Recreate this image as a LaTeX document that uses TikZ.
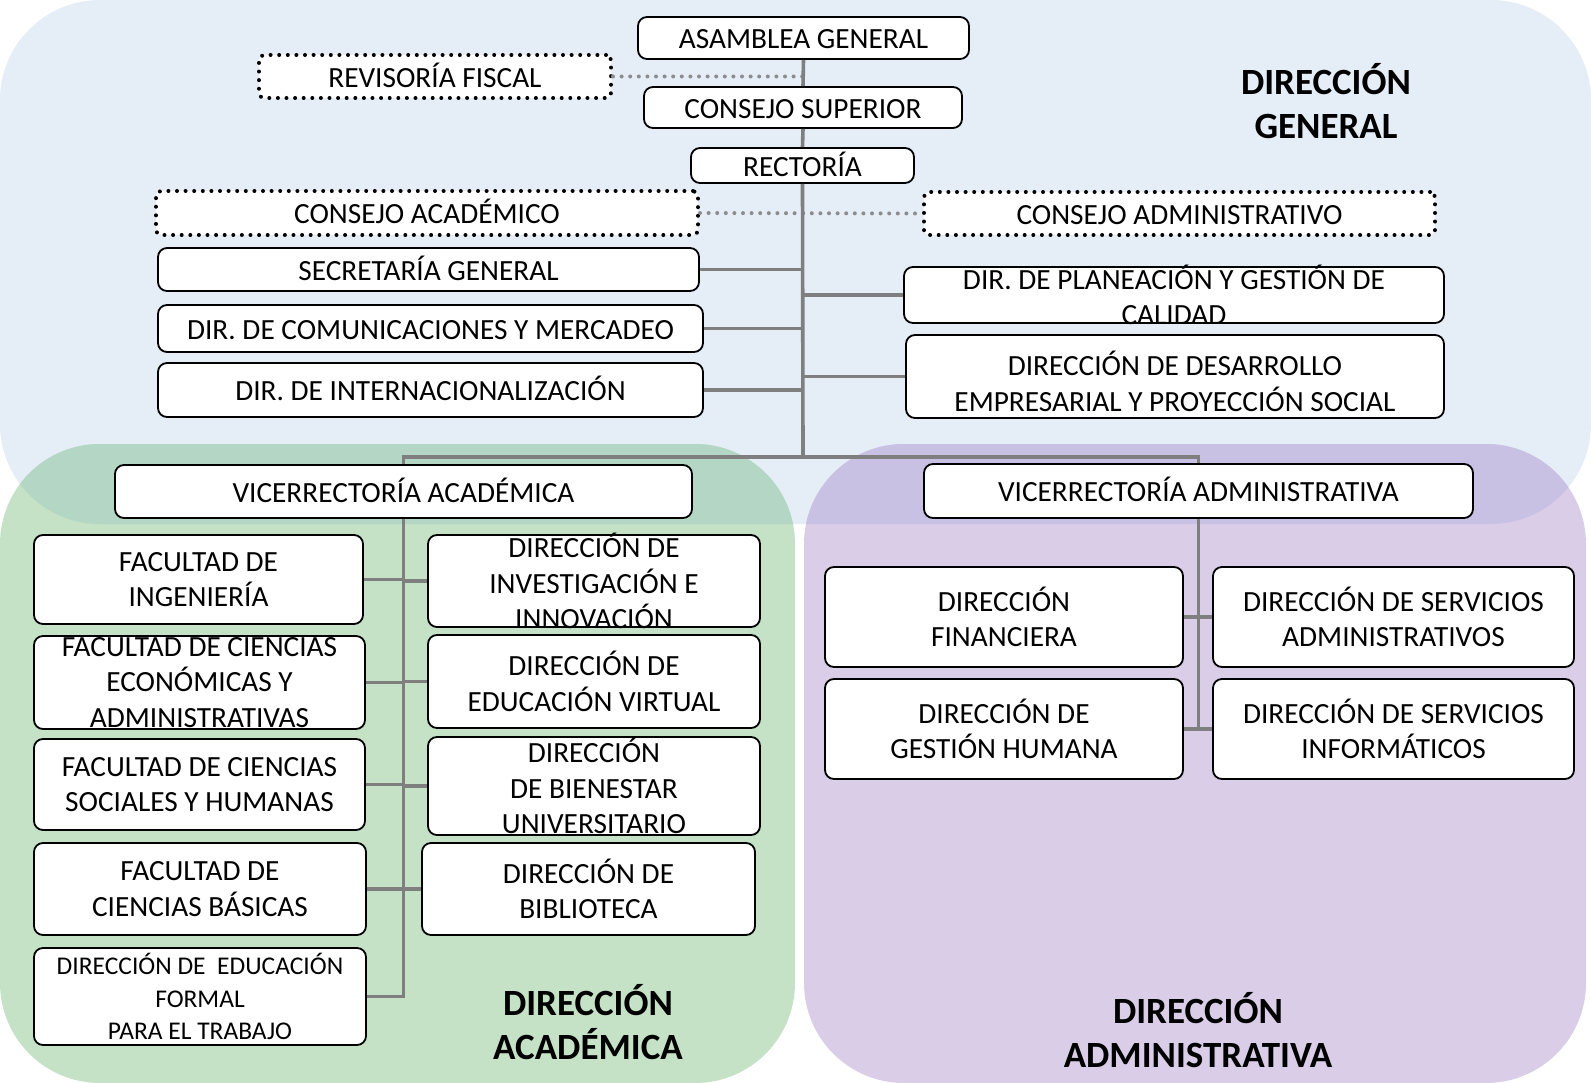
\documentclass[tikz,border=0pt]{standalone}
\usepackage{fontspec}
\setmainfont{Carlito}
\definecolor{fondogen}{RGB}{229,237,247}
\definecolor{fondoacad}{RGB}{197,225,198}
\definecolor{cruceacad}{RGB}{179,214,197}
\definecolor{fondoadmin}{RGB}{218,205,232}
\definecolor{cruceadmin}{RGB}{201,193,227}
\definecolor{gris}{RGB}{127,127,127}
\definecolor{grisclaro}{RGB}{140,140,140}

\begin{document}
\begin{tikzpicture}[x=1pt,y=-1pt,
	caja/.style 2 args={draw=black, line width=1.8pt, fill=white, rounded corners=9pt, minimum width=#1pt, minimum height=#2pt, inner sep=0pt},
	puntos/.style 2 args={draw=black, line width=4pt, dash pattern=on 0pt off 8.6pt, line cap=round, fill=white, rounded corners=5pt, minimum width=#1pt, minimum height=#2pt, inner sep=0pt},
	texto/.style={font=\fontsize{29.3}{35.4}\selectfont, align=center, inner sep=0pt},
	unalinea/.style={texto, text height=18.5pt, text depth=0pt, yshift=-1.5pt},
	textochico/.style={font=\fontsize{25.5}{32.5}\selectfont, align=center, inner sep=0pt},
	titulo/.style={font=\fontsize{37}{44.5}\selectfont\bfseries, align=center, inner sep=0pt},
	linea/.style={draw=gris, line width=3.6pt},
	enlace/.style={draw=grisclaro, line width=4pt, dash pattern=on 0pt off 8.6pt, line cap=round}]
	\useasboundingbox (0,0) rectangle (1591,1083);
	\fill [fondogen, rounded corners=100pt] (0,0) rectangle (1591,524);
	\fill [fondoacad, rounded corners=100pt] (0,444) rectangle (795,1083);
	\fill [fondoadmin, rounded corners=100pt] (804,444) rectangle (1586,1083);
	\begin{scope}
		\clip [rounded corners=100pt] (0,0) rectangle (1591,524);
		\fill [cruceacad, rounded corners=100pt] (0,444) rectangle (795,1083);
		\fill [cruceadmin, rounded corners=100pt] (804,444) rectangle (1586,1083);
	\end{scope}

	\node [caja={331}{42}] (asamblea) at (803.5,38) {};
	\node [unalinea] (asambleat) at (asamblea) {ASAMBLEA GENERAL};
	\node [puntos={352}{43}] (revisoria) at (435,76.5) {};
	\node [unalinea] (revisoriat) at (revisoria) {REVISORÍA FISCAL};
	\node [caja={318}{41}] (superior) at (803,107.5) {};
	\node [unalinea] (superiort) at (superior) {CONSEJO SUPERIOR};
	\node [caja={223}{35}] (rectoria) at (802.5,165.5) {};
	\node [unalinea] (rectoriat) at (rectoria) {RECTORÍA};
	\node [puntos={542}{44}] (cacad) at (427,213) {};
	\node [unalinea] (cacadt) at (cacad) {CONSEJO ACADÉMICO};
	\node [puntos={511}{43}] (cadmin) at (1179.5,213.5) {};
	\node [unalinea] (cadmint) at (cadmin) {CONSEJO ADMINISTRATIVO};
	\node [caja={541}{43}] (secretaria) at (428.5,269.5) {};
	\node [unalinea] (secretariat) at (secretaria) {SECRETARÍA GENERAL};
	\node [caja={545}{47}] (comunic) at (430.5,328.5) {};
	\node [unalinea] (comunict) at (comunic) {DIR. DE COMUNICACIONES Y MERCADEO};
	\node [caja={545}{54}] (internac) at (430.5,390) {};
	\node [unalinea] (internact) at (internac) {DIR. DE INTERNACIONALIZACIÓN};
	\node [caja={540}{56}] (planeacion) at (1174,295) {};
	\node [texto] (planeaciont) at (planeacion) {DIR. DE PLANEACIÓN Y GESTIÓN DE\\CALIDAD};
	\node [caja={538}{83}] (desarrollo) at (1175,376.5) {};
	\node [texto, yshift=-5pt] (desarrollot) at (desarrollo) {DIRECCIÓN DE DESARROLLO\\EMPRESARIAL Y PROYECCIÓN SOCIAL};

	\node [caja={577}{53}] (vacad) at (403.5,491.5) {};
	\node [unalinea] (vacadt) at (vacad) {VICERRECTORÍA ACADÉMICA};
	\node [caja={329}{89}] (ing) at (198.5,579.5) {};
	\node [texto] (ingt) at (ing) {FACULTAD DE\\INGENIERÍA};
	\node [caja={331}{93}] (econ) at (199.5,682.5) {};
	\node [texto] (econt) at (econ) {FACULTAD DE CIENCIAS\\ECONÓMICAS Y\\ADMINISTRATIVAS};
	\node [caja={331}{91}] (soc) at (199.5,784.5) {};
	\node [texto] (soct) at (soc) {FACULTAD DE CIENCIAS\\SOCIALES Y HUMANAS};
	\node [caja={332}{92}] (basicas) at (200,889) {};
	\node [texto] (basicast) at (basicas) {FACULTAD DE\\CIENCIAS BÁSICAS};
	\node [caja={332}{97}] (formal) at (200,996.5) {};
	\node [textochico] (formalt) at (formal) {DIRECCIÓN DE\ \ EDUCACIÓN\\FORMAL\\PARA EL TRABAJO};
	\node [caja={332}{92}] (invest) at (594,581) {};
	\node [texto] (investt) at (invest) {DIRECCIÓN DE\\INVESTIGACIÓN E\\INNOVACIÓN};
	\node [caja={332}{93}] (virtual) at (594,681.5) {};
	\node [texto] (virtualt) at (virtual) {DIRECCIÓN DE\\EDUCACIÓN VIRTUAL};
	\node [caja={332}{98}] (bienestar) at (594,786) {};
	\node [texto] (bienestart) at (bienestar) {DIRECCIÓN\\DE BIENESTAR\\UNIVERSITARIO};
	\node [caja={333}{92}] (biblio) at (588.5,889) {};
	\node [texto] (bibliot) at (biblio) {DIRECCIÓN DE\\BIBLIOTECA};

	\node [caja={549}{54}] (vadmin) at (1198.5,491) {};
	\node [unalinea] (vadmint) at (vadmin) {VICERRECTORÍA ADMINISTRATIVA};
	\node [caja={358}{100}] (financiera) at (1004,617) {};
	\node [texto] (financierat) at (financiera) {DIRECCIÓN\\FINANCIERA};
	\node [caja={358}{100}] (humana) at (1004,729) {};
	\node [texto] (humanat) at (humana) {DIRECCIÓN DE\\GESTIÓN HUMANA};
	\node [caja={361}{100}] (servadm) at (1393.5,617) {};
	\node [texto] (servadmt) at (servadm) {DIRECCIÓN DE SERVICIOS\\ADMINISTRATIVOS};
	\node [caja={361}{100}] (servinf) at (1393.5,729) {};
	\node [texto] (servinft) at (servinf) {DIRECCIÓN DE SERVICIOS\\INFORMÁTICOS};

	\node [titulo] (tgeneral) at (1326,101) {DIRECCIÓN\\GENERAL};
	\node [titulo] (tacad) at (588,1022) {DIRECCIÓN\\ACADÉMICA};
	\node [titulo] (tadmin) at (1198,1030) {DIRECCIÓN\\ADMINISTRATIVA};

	\coordinate (cruce) at (803,457);
	\draw [enlace] (revisoria.east) -- (revisoria.east -| cruce);
	\draw [enlace] (cacad.east) -- (cadmin.west);
	\draw [linea] (asamblea.south) -- (superior.north);
	\draw [linea] (superior.south) -- (rectoria.north);
	\draw [linea] (rectoria.south) -- (cruce);
	\draw [linea] (vacad.north) |- (cruce) -| (vadmin.north);
	\foreach \n in {secretaria,comunic,internac}
		\draw [linea] (\n.east) -- (\n.east -| cruce);
	\foreach \n in {planeacion,desarrollo}
		\draw [linea] (\n.west) -- (\n.west -| cruce);
	\draw [linea] (vacad.south) |- (formal.east);
	\foreach \n in {ing,econ,soc,basicas}
		\draw [linea] (\n.east) -- (\n.east -| vacad.south);
	\foreach \n in {invest,virtual,bienestar,biblio}
		\draw [linea] (\n.west) -- (\n.west -| vacad.south);
	\draw [linea] (vadmin.south) -- (vadmin.south |- humana.east);
	\draw [linea] (financiera.east) -- (servadm.west);
	\draw [linea] (humana.east) -- (servinf.west);
\end{tikzpicture}
\end{document}
